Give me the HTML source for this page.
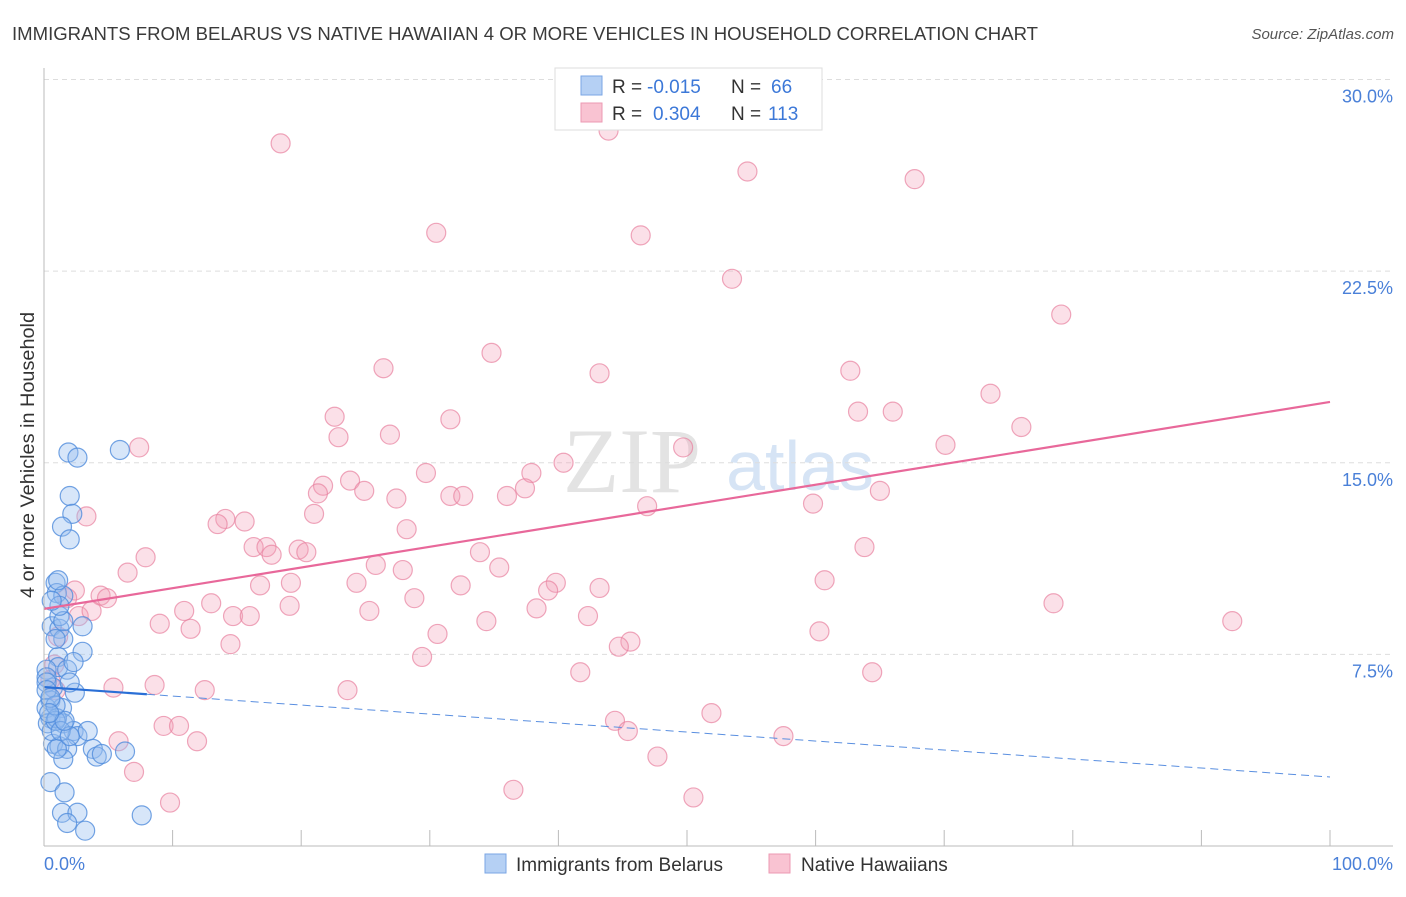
<!DOCTYPE html>
<html><head><meta charset="utf-8"><style>
body{margin:0;background:#fff;width:1406px;height:892px;overflow:hidden;font-family:"Liberation Sans",sans-serif}
</style></head><body>
<svg width="1406" height="892" xmlns="http://www.w3.org/2000/svg">
<text x="12" y="40" font-size="18" fill="#3a3a3a" textLength="1026" lengthAdjust="spacingAndGlyphs">IMMIGRANTS FROM BELARUS VS NATIVE HAWAIIAN 4 OR MORE VEHICLES IN HOUSEHOLD CORRELATION CHART</text>
<text x="1394" y="39" font-size="15" fill="#555" font-style="italic" text-anchor="end">Source: ZipAtlas.com</text>
<text transform="translate(34,455) rotate(-90)" font-size="19" fill="#333" text-anchor="middle" textLength="286" lengthAdjust="spacingAndGlyphs">4 or more Vehicles in Household</text>
<g><text x="632" y="492" font-size="92" fill="#e3e3e3" font-family="Liberation Serif" text-anchor="middle">ZIP</text><text x="800" y="490" font-size="70" fill="#d6e4f5" text-anchor="middle">atlas</text></g>
<g id="grid"></g><g id="marks"></g><g id="axes"></g>
<g>
<rect x="555" y="68" width="267" height="62" fill="#fff" stroke="#ddd"/>
<rect x="581" y="76" width="21" height="19" fill="#b5d0f4" stroke="#7aa6e4"/>
<rect x="581" y="103" width="21" height="19" fill="#f9c3d2" stroke="#ec9ab3"/>
<text x="612" y="93" font-size="19" fill="#333">R = </text><text x="647" y="93" font-size="19" fill="#3c78d8">-0.015</text>
<text x="731" y="93" font-size="19" fill="#333">N = </text><text x="771" y="93" font-size="19" fill="#3c78d8">66</text>
<text x="612" y="120" font-size="19" fill="#333">R = </text><text x="653" y="120" font-size="19" fill="#3c78d8">0.304</text>
<text x="731" y="120" font-size="19" fill="#333">N = </text><text x="768" y="120" font-size="19" fill="#3c78d8">113</text>
</g>
<g>
<rect x="485" y="854" width="21" height="19" fill="#b5d0f4" stroke="#7aa6e4"/>
<text x="516" y="871" font-size="19" fill="#333">Immigrants from Belarus</text>
<rect x="769" y="854" width="21" height="19" fill="#f9c3d2" stroke="#ec9ab3"/>
<text x="801" y="871" font-size="19" fill="#333">Native Hawaiians</text>
</g>
</svg>
<script>
const yTicks=[7.5,15,22.5,30];
const yTickLabels=["7.5%","15.0%","22.5%","30.0%"];
const xTickLabels=["0.0%","100.0%"];
const blueX=[1.9,2.6,5.9,2.0,2.2,1.4,2.0,0.9,1.0,1.5,0.6,1.2,1.5,3.0,3.0,1.1,1.1,1.8,2.3,2.4,0.7,0.5,1.4,0.5,1.5,2.3,2.6,3.4,0.7,1.2,1.8,3.8,4.1,4.5,6.3,1.5,0.5,1.6,1.4,2.6,1.8,3.2,7.6,1.0,0.2,0.2,0.2,0.2,0.2,0.3,0.6,1.0,0.9,1.3,2.0,1.2,1.5,1.1,1.2,0.9,2.0,1.6,0.9,0.5,0.6,0.4];
const blueY=[15.4,15.2,15.5,13.7,13.0,12.5,12.0,10.3,9.9,9.8,8.6,8.5,8.1,8.6,7.6,7.4,7.0,6.9,7.2,6.0,6.2,5.7,5.4,5.0,4.8,4.5,4.3,4.5,4.0,3.9,3.8,3.8,3.5,3.6,3.7,3.4,2.5,2.1,1.3,1.3,0.9,0.6,1.2,3.8,6.9,6.6,6.4,6.1,5.4,4.8,4.5,5.0,4.9,4.5,6.4,9.0,8.8,10.4,9.4,8.1,4.3,4.9,5.5,5.8,9.6,5.2];
const pinkX=[18.4,43.9,41.6,54.7,67.7,30.5,46.4,53.5,79.1,34.8,26.4,43.2,62.7,22.6,31.6,63.3,66.0,73.6,22.9,26.9,76.0,70.1,7.4,49.7,40.4,37.9,29.7,23.8,21.7,21.3,24.9,31.6,32.6,37.4,36.0,27.4,65.0,46.9,59.8,3.3,21.0,15.6,14.1,13.5,28.2,16.3,17.3,17.7,19.8,20.4,7.9,33.9,63.8,6.5,25.8,35.4,27.9,16.8,19.2,24.3,32.4,39.8,39.2,43.2,60.7,2.4,4.4,4.9,1.8,28.8,13.0,10.9,14.7,16.0,19.1,25.3,38.3,2.7,3.7,9.0,11.4,34.4,42.3,78.5,92.4,30.6,45.6,44.7,60.3,14.5,29.4,41.7,64.4,8.6,5.4,12.5,23.6,51.9,44.4,45.4,9.3,10.5,11.9,5.8,57.5,47.7,7.0,36.5,50.5,9.8,0.9,0.8,1.1,0.5];
const pinkY=[27.5,28.0,29.5,26.4,26.1,24.0,23.9,22.2,20.8,19.3,18.7,18.5,18.6,16.8,16.7,17.0,17.0,17.7,16.0,16.1,16.4,15.7,15.6,15.6,15.0,14.6,14.6,14.3,14.1,13.8,13.9,13.7,13.7,14.0,13.7,13.6,13.9,13.3,13.4,12.9,13.0,12.7,12.8,12.6,12.4,11.7,11.7,11.4,11.6,11.5,11.3,11.5,11.7,10.7,11.0,10.9,10.8,10.2,10.3,10.3,10.2,10.3,10.0,10.1,10.4,10.0,9.8,9.7,9.7,9.7,9.5,9.2,9.0,9.0,9.4,9.2,9.3,9.0,9.2,8.7,8.5,8.8,9.0,9.5,8.8,8.3,8.0,7.8,8.4,7.9,7.4,6.8,6.8,6.3,6.2,6.1,6.1,5.2,4.9,4.5,4.7,4.7,4.1,4.1,4.3,3.5,2.9,2.2,1.9,1.7,6.1,7.1,8.2,6.5];
const pinkTrend=[9.28,17.38];
const blueTrend=[6.22,2.7];
const NS="http://www.w3.org/2000/svg";
const X0=44,X1=1330,Y0=846,PPY=25.55;
function sx(v){return X0+(X1-X0)*v/100;}
function sy(v){return Y0-v*PPY;}
function mk(tag,attrs,parent){const e=document.createElementNS(NS,tag);for(const k in attrs)e.setAttribute(k,attrs[k]);document.getElementById(parent).appendChild(e);return e;}
yTicks.forEach((t,i)=>{
 const g=mk('line',{x1:44,x2:1393,y1:sy(t),y2:sy(t),stroke:'#ddd','stroke-dasharray':'5,4'},'grid');
 
 
 const l=mk('text',{x:1393,y:sy(t)+23,'font-size':18,fill:'#4a80d8','text-anchor':'end'},'axes');
 l.textContent=yTickLabels[i];
 
 
});
const ax=mk('line',{x1:44,x2:44,y1:68,y2:846,stroke:'#bbb'},'axes');


const bx=mk('line',{x1:44,x2:1393,y1:846,y2:846,stroke:'#bbb'},'axes');


for(let i=1;i<=10;i++){const t=mk('line',{x1:sx(i*10),x2:sx(i*10),y1:830,y2:846,stroke:'#bbb'},'axes');
 
 }
[[0,'start',44],[100,'end',1393]].forEach((d,i)=>{const t=mk('text',{x:d[2],y:870,'font-size':18,fill:'#4a80d8','text-anchor':d[1]},'axes');t.textContent=xTickLabels[i];
 
 });
pinkX.forEach((x,i)=>{const c=mk('circle',{cx:sx(x),cy:sy(pinkY[i]),r:9.5,fill:'rgba(244,160,185,0.32)',stroke:'rgba(232,130,160,0.7)','stroke-width':1.2},'marks');
 
 });
blueX.forEach((x,i)=>{const c=mk('circle',{cx:sx(x),cy:sy(blueY[i]),r:9.5,fill:'rgba(150,190,240,0.38)',stroke:'rgba(80,140,220,0.8)','stroke-width':1.2},'marks');
 
 });
const pl=mk('line',{x1:sx(0),y1:sy(pinkTrend[0]),x2:sx(100),y2:sy(pinkTrend[1]),stroke:'#e8689a','stroke-width':2.2},'marks');


const bs=8;const bm=blueTrend[0]+(blueTrend[1]-blueTrend[0])*bs/100;
const b1=mk('line',{x1:sx(0),y1:sy(blueTrend[0]),x2:sx(bs),y2:sy(bm),stroke:'#2a6fd6','stroke-width':2.2},'marks');


const b2=mk('line',{x1:sx(bs),y1:sy(bm),x2:sx(100),y2:sy(blueTrend[1]),stroke:'#5a8fe0','stroke-width':1,'stroke-dasharray':'8,5'},'marks');


</script>
</body></html>
